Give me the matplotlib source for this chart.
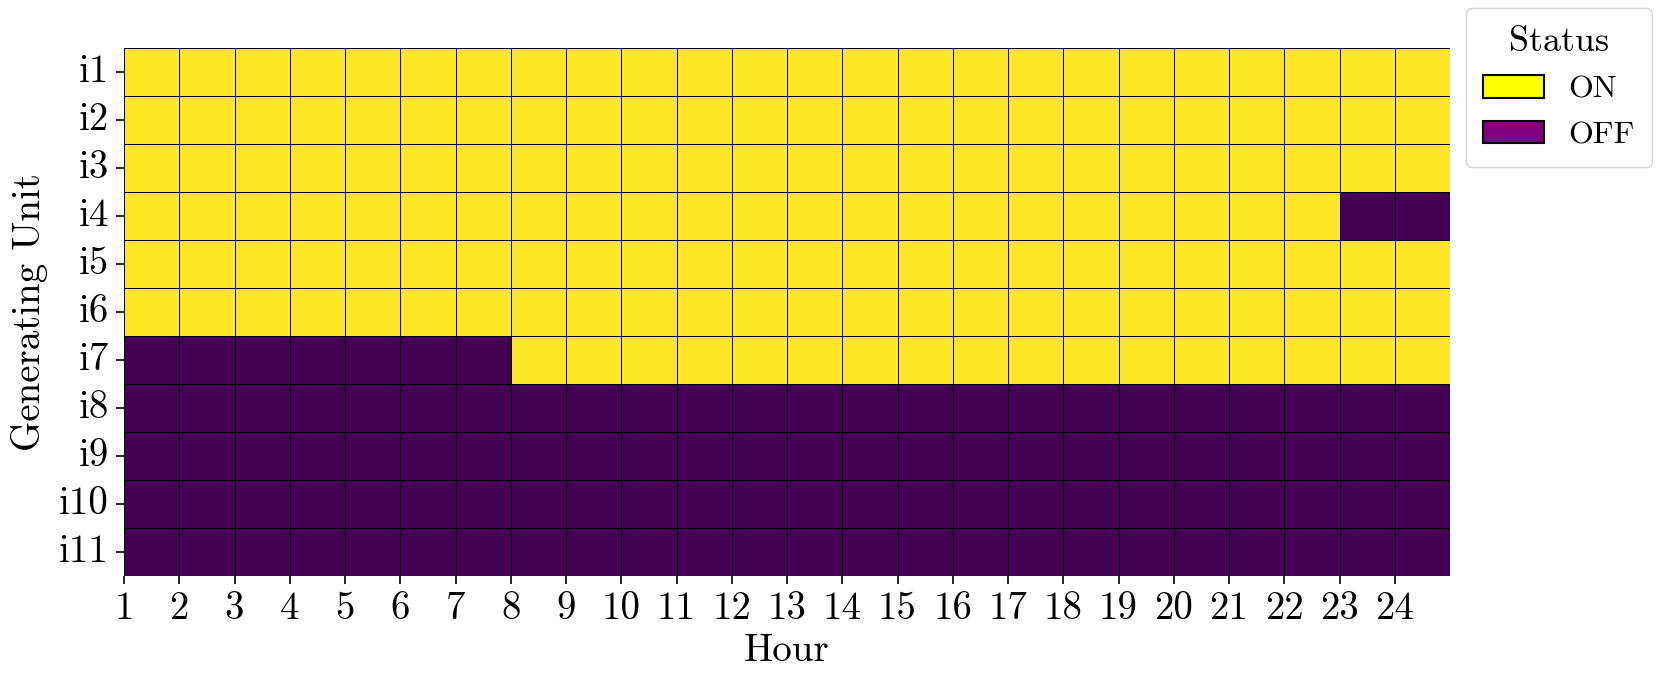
import matplotlib
matplotlib.use("Agg")
import matplotlib.pyplot as plt
from matplotlib.patches import Patch
import numpy as np
import seaborn as sns

plt.rcParams['font.family'] = 'serif'
plt.rcParams['font.serif'] = ['cmr10']
plt.rcParams['mathtext.fontset'] = 'cm'
plt.rcParams['axes.formatter.use_mathtext'] = True

units = ['i1', 'i2', 'i3', 'i4', 'i5', 'i6', 'i7', 'i8', 'i9', 'i10', 'i11']
hours = list(range(1, 25))

# 1 = ON, 0 = OFF, one row per unit
status = [
    [1] * 24,
    [1] * 24,
    [1] * 24,
    [1] * 22 + [0, 0],
    [1] * 24,
    [1] * 24,
    [0] * 7 + [1] * 17,
    [0] * 24,
    [0] * 24,
    [0] * 24,
    [0] * 24,
]

fig = plt.figure(figsize=(16.61, 6.87), dpi=100)
ax = fig.add_axes([124 / 1661, 1 - 576 / 687, (1450 - 124) / 1661, (576 - 48) / 687])

sns.heatmap(np.array(status), cmap='viridis', linewidths=0.6, linecolor='black',
            cbar=False, ax=ax)

ax.set_xticks(np.arange(len(hours)))
ax.set_xticklabels([str(h) for h in hours], rotation=0, fontsize=28)
ax.set_yticks(np.arange(len(units)) + 0.5)
ax.set_yticklabels(units, rotation=0, fontsize=28)
ax.tick_params(length=6, width=1.2, pad=5)
ax.set_xlabel('Hour', fontsize=28, labelpad=4)
ax.set_ylabel('Generating Unit', fontsize=28, labelpad=8)

handles = [Patch(facecolor='yellow', edgecolor='black', linewidth=1.5, label='ON'),
           Patch(facecolor='purple', edgecolor='black', linewidth=1.5, label='OFF')]
leg = ax.legend(handles=handles, title='Status', loc='upper left',
                bbox_to_anchor=(1.012, 1.075), borderaxespad=0,
                fontsize=23, title_fontsize=26,
                handlelength=1.9, handleheight=0.7, labelspacing=0.55,
                borderpad=0.55, handletextpad=0.75)

fig.savefig('out.png', dpi=100)
